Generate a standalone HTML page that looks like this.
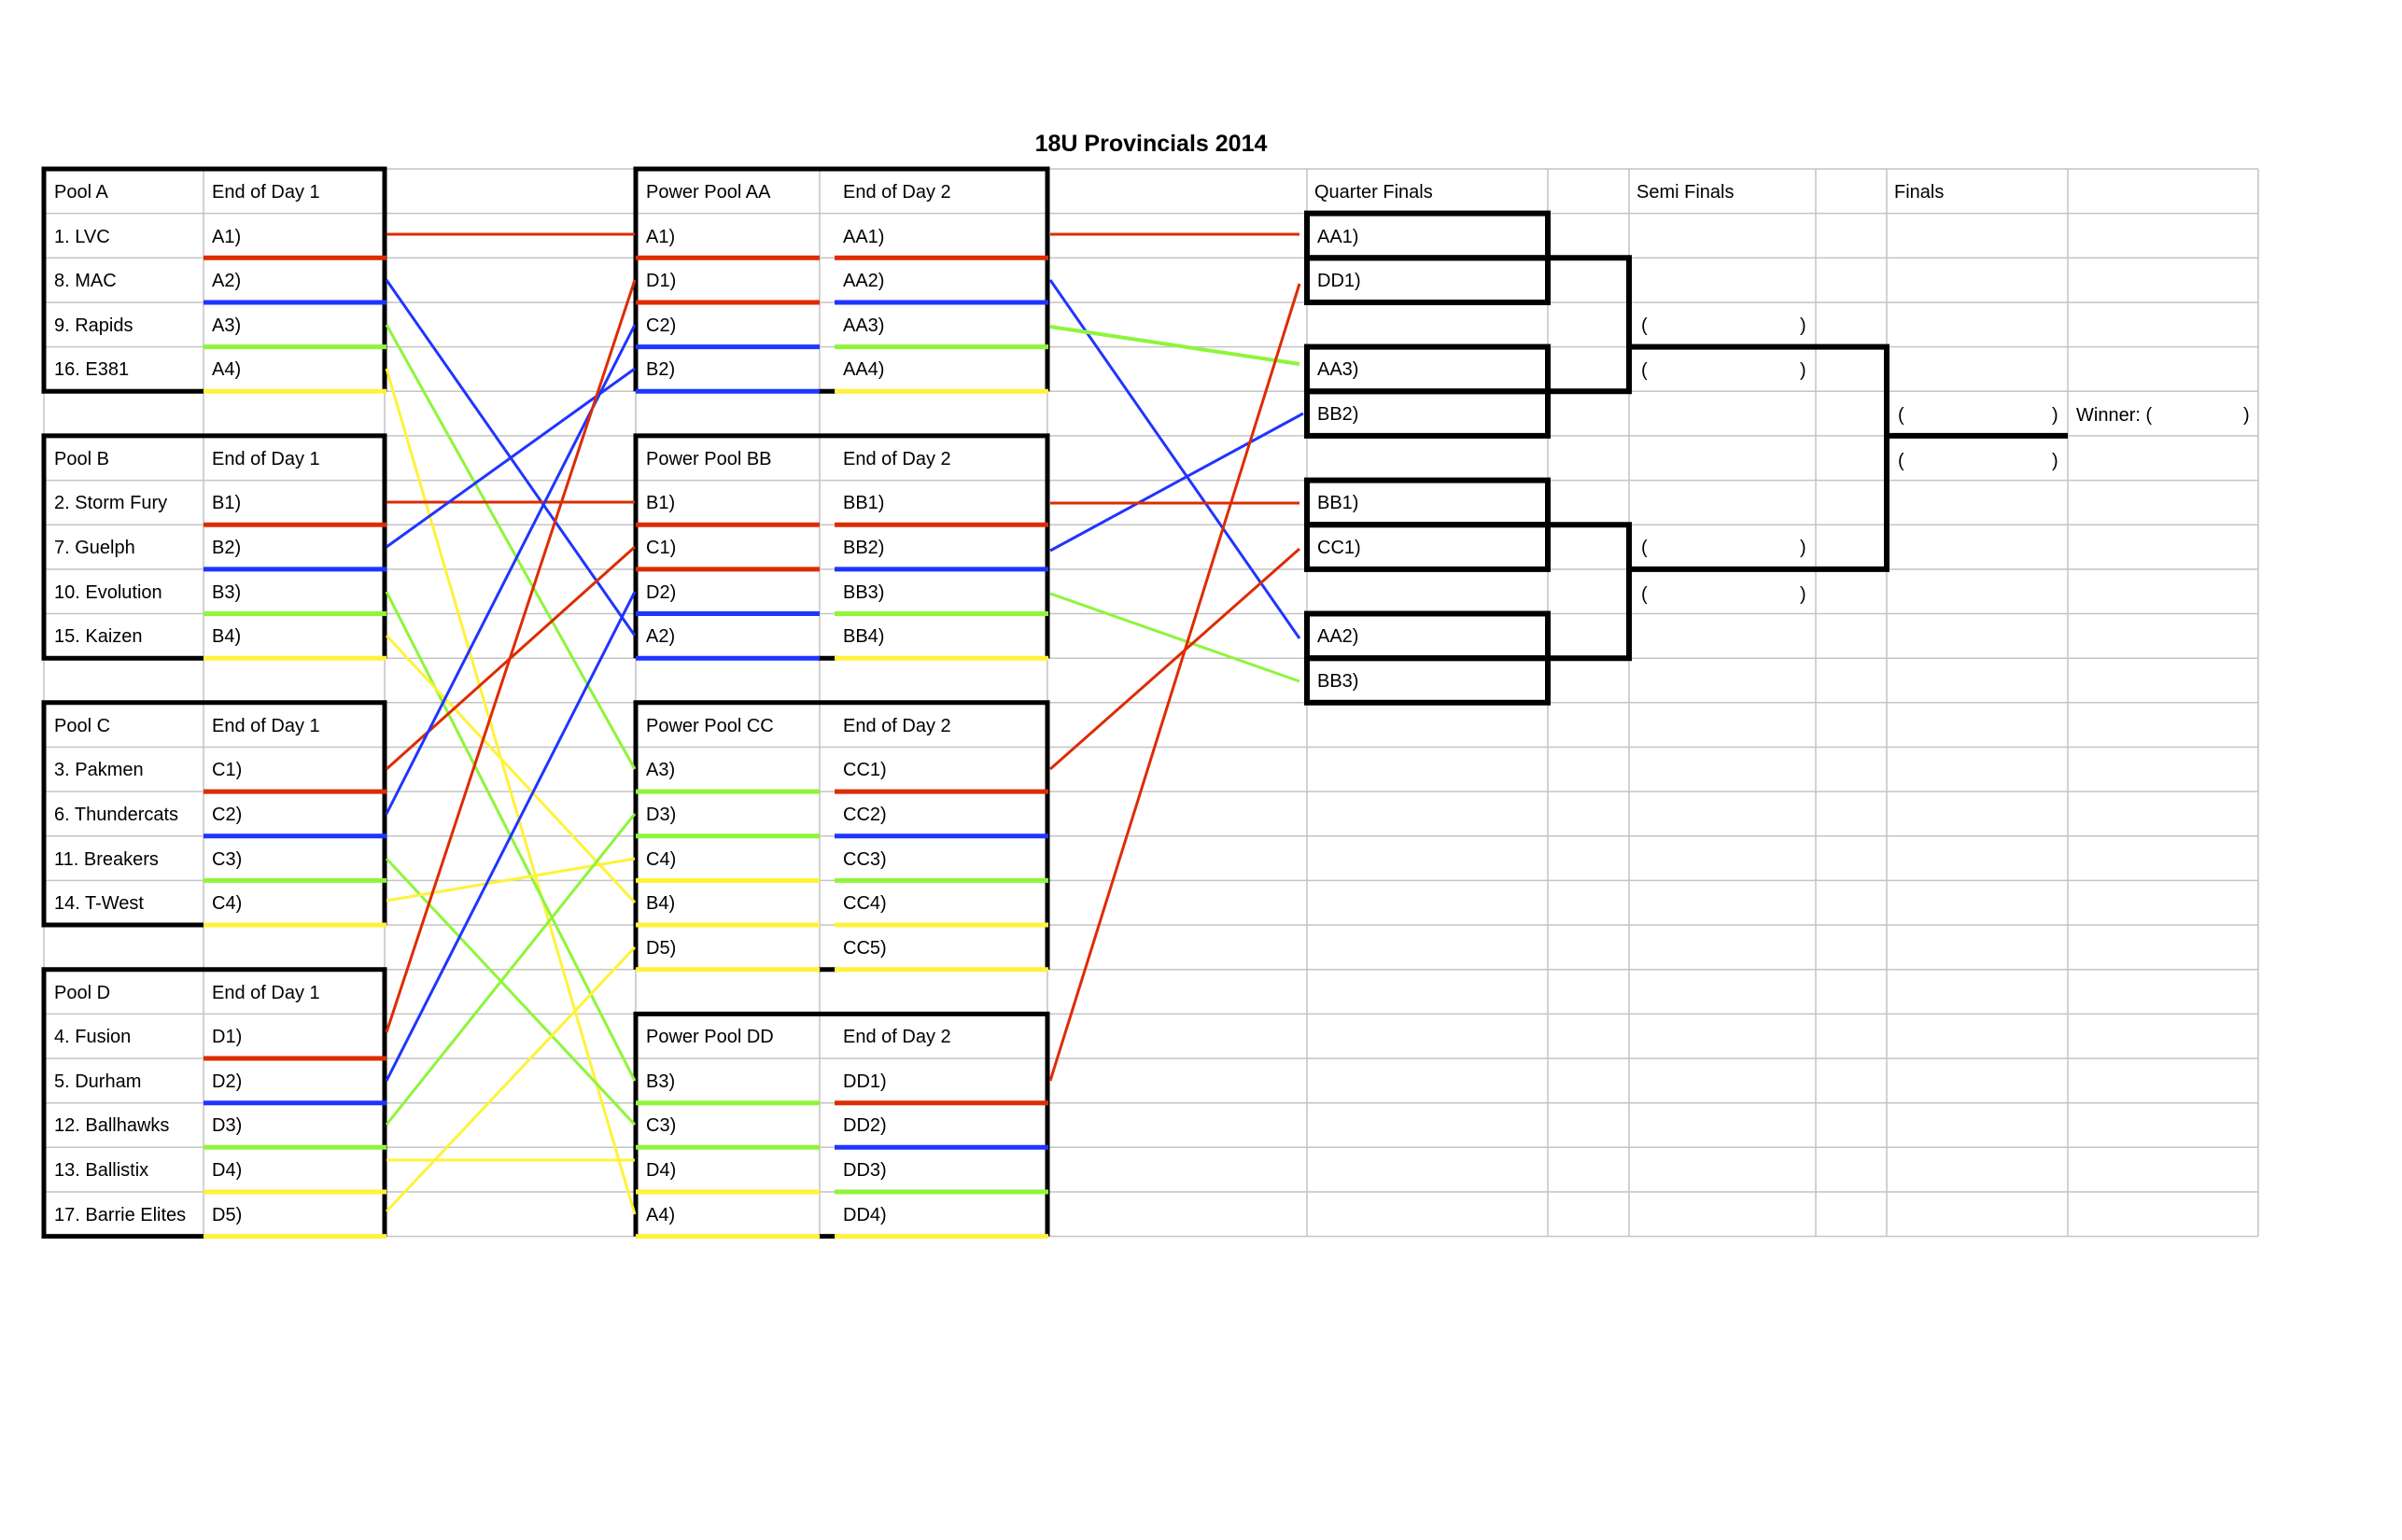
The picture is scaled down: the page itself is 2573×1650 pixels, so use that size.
<!DOCTYPE html>
<html><head><meta charset="utf-8"><style>
html,body{margin:0;padding:0;background:#fff;}
svg{display:block;}
text{font-family:"Liberation Sans",Arial,sans-serif;font-size:20px;fill:#000;}
</style></head><body>
<svg width="2573" height="1650" viewBox="0 0 2573 1650" xmlns="http://www.w3.org/2000/svg">
<rect width="2573" height="1650" fill="#fff"/>
<!-- grid -->
<g stroke="#c4c4c4" stroke-width="1.5">
<line x1="47" y1="181" x2="2419" y2="181"/><line x1="47" y1="228.6" x2="2419" y2="228.6"/><line x1="47" y1="276.3" x2="2419" y2="276.3"/><line x1="47" y1="324" x2="2419" y2="324"/><line x1="47" y1="371.6" x2="2419" y2="371.6"/><line x1="47" y1="419.3" x2="2419" y2="419.3"/><line x1="47" y1="466.9" x2="2419" y2="466.9"/><line x1="47" y1="514.6" x2="2419" y2="514.6"/><line x1="47" y1="562.2" x2="2419" y2="562.2"/><line x1="47" y1="609.9" x2="2419" y2="609.9"/><line x1="47" y1="657.5" x2="2419" y2="657.5"/><line x1="47" y1="705.2" x2="2419" y2="705.2"/><line x1="47" y1="752.8" x2="2419" y2="752.8"/><line x1="47" y1="800.5" x2="2419" y2="800.5"/><line x1="47" y1="848.1" x2="2419" y2="848.1"/><line x1="47" y1="895.8" x2="2419" y2="895.8"/><line x1="47" y1="943.4" x2="2419" y2="943.4"/><line x1="47" y1="991" x2="2419" y2="991"/><line x1="47" y1="1038.7" x2="2419" y2="1038.7"/><line x1="47" y1="1086.4" x2="2419" y2="1086.4"/><line x1="47" y1="1134" x2="2419" y2="1134"/><line x1="47" y1="1181.7" x2="2419" y2="1181.7"/><line x1="47" y1="1229.3" x2="2419" y2="1229.3"/><line x1="47" y1="1277" x2="2419" y2="1277"/><line x1="47" y1="1324.6" x2="2419" y2="1324.6"/>
<line x1="47" y1="181" x2="47" y2="1324.6"/><line x1="218" y1="181" x2="218" y2="1324.6"/><line x1="412" y1="181" x2="412" y2="1324.6"/><line x1="681" y1="181" x2="681" y2="1324.6"/><line x1="878" y1="181" x2="878" y2="1324.6"/><line x1="1122" y1="181" x2="1122" y2="1324.6"/><line x1="1400" y1="181" x2="1400" y2="1324.6"/><line x1="1658" y1="181" x2="1658" y2="1324.6"/><line x1="1745" y1="181" x2="1745" y2="1324.6"/><line x1="1945" y1="181" x2="1945" y2="1324.6"/><line x1="2021" y1="181" x2="2021" y2="1324.6"/><line x1="2215" y1="181" x2="2215" y2="1324.6"/><line x1="2419" y1="181" x2="2419" y2="1324.6"/>
</g>
<text x="1233" y="162" text-anchor="middle" style="font-weight:bold;font-size:25px">18U Provincials 2014</text>

<!-- pool boxes -->
<g fill="none" stroke="#000" stroke-width="5">
<path d="M218 419.3H47V181H412V419.3"/>
<path d="M218 705.2H47V466.9H412V705.2"/>
<path d="M218 991H47V752.8H412V991"/>
<path d="M218 1324.6H47V1038.7H412V1324.6"/>
<path d="M681 419.3V181H1122V419.3M876 419.3H896"/>
<path d="M681 705.2V466.9H1122V705.2M876 705.2H896"/>
<path d="M681 1038.7V752.8H1122V1038.7M876 1038.7H896"/>
<path d="M681 1324.6V1086.4H1122V1324.6M876 1324.6H896"/>
</g>
<g stroke-width="5">
<!-- pool underlines -->
<line x1="218" x2="414" y1="276.3" y2="276.3" stroke="#dd2c00"/><line x1="218" x2="414" y1="324" y2="324" stroke="#1f35ff"/><line x1="218" x2="414" y1="371.6" y2="371.6" stroke="#8ef53a"/><line x1="218" x2="414" y1="419.3" y2="419.3" stroke="#fff23a"/>
<line x1="218" x2="414" y1="562.2" y2="562.2" stroke="#dd2c00"/><line x1="218" x2="414" y1="609.9" y2="609.9" stroke="#1f35ff"/><line x1="218" x2="414" y1="657.5" y2="657.5" stroke="#8ef53a"/><line x1="218" x2="414" y1="705.2" y2="705.2" stroke="#fff23a"/>
<line x1="218" x2="414" y1="848.1" y2="848.1" stroke="#dd2c00"/><line x1="218" x2="414" y1="895.8" y2="895.8" stroke="#1f35ff"/><line x1="218" x2="414" y1="943.4" y2="943.4" stroke="#8ef53a"/><line x1="218" x2="414" y1="991" y2="991" stroke="#fff23a"/>
<line x1="218" x2="414" y1="1134" y2="1134" stroke="#dd2c00"/><line x1="218" x2="414" y1="1181.7" y2="1181.7" stroke="#1f35ff"/><line x1="218" x2="414" y1="1229.3" y2="1229.3" stroke="#8ef53a"/><line x1="218" x2="414" y1="1277" y2="1277" stroke="#fff23a"/><line x1="218" x2="414" y1="1324.6" y2="1324.6" stroke="#fff23a"/>
<!-- power AA -->
<line x1="681" x2="878" y1="276.3" y2="276.3" stroke="#dd2c00"/><line x1="894" x2="1123" y1="276.3" y2="276.3" stroke="#dd2c00"/>
<line x1="681" x2="878" y1="324" y2="324" stroke="#dd2c00"/><line x1="894" x2="1123" y1="324" y2="324" stroke="#1f35ff"/>
<line x1="681" x2="878" y1="371.6" y2="371.6" stroke="#1f35ff"/><line x1="894" x2="1123" y1="371.6" y2="371.6" stroke="#8ef53a"/>
<line x1="681" x2="878" y1="419.3" y2="419.3" stroke="#1f35ff"/><line x1="894" x2="1123" y1="419.3" y2="419.3" stroke="#fff23a"/>
<!-- BB -->
<line x1="681" x2="878" y1="562.2" y2="562.2" stroke="#dd2c00"/><line x1="894" x2="1123" y1="562.2" y2="562.2" stroke="#dd2c00"/>
<line x1="681" x2="878" y1="609.9" y2="609.9" stroke="#dd2c00"/><line x1="894" x2="1123" y1="609.9" y2="609.9" stroke="#1f35ff"/>
<line x1="681" x2="878" y1="657.5" y2="657.5" stroke="#1f35ff"/><line x1="894" x2="1123" y1="657.5" y2="657.5" stroke="#8ef53a"/>
<line x1="681" x2="878" y1="705.2" y2="705.2" stroke="#1f35ff"/><line x1="894" x2="1123" y1="705.2" y2="705.2" stroke="#fff23a"/>
<!-- CC -->
<line x1="681" x2="878" y1="848.1" y2="848.1" stroke="#8ef53a"/><line x1="894" x2="1123" y1="848.1" y2="848.1" stroke="#dd2c00"/>
<line x1="681" x2="878" y1="895.8" y2="895.8" stroke="#8ef53a"/><line x1="894" x2="1123" y1="895.8" y2="895.8" stroke="#1f35ff"/>
<line x1="681" x2="878" y1="943.4" y2="943.4" stroke="#fff23a"/><line x1="894" x2="1123" y1="943.4" y2="943.4" stroke="#8ef53a"/>
<line x1="681" x2="878" y1="991" y2="991" stroke="#fff23a"/><line x1="894" x2="1123" y1="991" y2="991" stroke="#fff23a"/>
<line x1="681" x2="878" y1="1038.7" y2="1038.7" stroke="#fff23a"/><line x1="894" x2="1123" y1="1038.7" y2="1038.7" stroke="#fff23a"/>
<!-- DD -->
<line x1="681" x2="878" y1="1181.7" y2="1181.7" stroke="#8ef53a"/><line x1="894" x2="1123" y1="1181.7" y2="1181.7" stroke="#dd2c00"/>
<line x1="681" x2="878" y1="1229.3" y2="1229.3" stroke="#8ef53a"/><line x1="894" x2="1123" y1="1229.3" y2="1229.3" stroke="#1f35ff"/>
<line x1="681" x2="878" y1="1277" y2="1277" stroke="#fff23a"/><line x1="894" x2="1123" y1="1277" y2="1277" stroke="#8ef53a"/>
<line x1="681" x2="878" y1="1324.6" y2="1324.6" stroke="#fff23a"/><line x1="894" x2="1123" y1="1324.6" y2="1324.6" stroke="#fff23a"/>
</g>

<!-- connectors left -->
<g stroke-width="3">
<line x1="414" y1="251" x2="680" y2="251" stroke="#dd2c00"/>
<line x1="414" y1="300" x2="680" y2="681" stroke="#1f35ff"/>
<line x1="414" y1="348" x2="680" y2="824" stroke="#8ef53a"/>
<line x1="414" y1="395" x2="680" y2="1301" stroke="#fff23a"/>
<line x1="414" y1="538" x2="680" y2="538" stroke="#dd2c00"/>
<line x1="414" y1="586" x2="680" y2="395" stroke="#1f35ff"/>
<line x1="414" y1="634" x2="680" y2="1158" stroke="#8ef53a"/>
<line x1="414" y1="681" x2="680" y2="967" stroke="#fff23a"/>
<line x1="414" y1="824" x2="680" y2="586" stroke="#dd2c00"/>
<line x1="414" y1="872" x2="680" y2="348" stroke="#1f35ff"/>
<line x1="414" y1="920" x2="680" y2="1205" stroke="#8ef53a"/>
<line x1="414" y1="965" x2="680" y2="920" stroke="#fff23a"/>
<line x1="414" y1="1106" x2="680" y2="300" stroke="#dd2c00"/>
<line x1="414" y1="1158" x2="680" y2="634" stroke="#1f35ff"/>
<line x1="414" y1="1205" x2="680" y2="872" stroke="#8ef53a"/>
<line x1="414" y1="1243" x2="680" y2="1243" stroke="#fff23a"/>
<line x1="414" y1="1298" x2="680" y2="1015" stroke="#fff23a"/>
<!-- right -->
<line x1="1125" y1="251" x2="1392" y2="251" stroke="#dd2c00"/>
<line x1="1125" y1="300" x2="1392" y2="684" stroke="#1f35ff"/>
<line x1="1125" y1="350" x2="1392" y2="390" stroke="#8ef53a" stroke-width="4"/>
<line x1="1125" y1="590" x2="1396" y2="443" stroke="#1f35ff"/>
<line x1="1125" y1="539" x2="1392" y2="539" stroke="#dd2c00"/>
<line x1="1125" y1="636" x2="1392" y2="730" stroke="#8ef53a"/>
<line x1="1125" y1="824" x2="1392" y2="588" stroke="#dd2c00"/>
<line x1="1125" y1="1158" x2="1392" y2="304" stroke="#dd2c00"/>
</g>

<!-- QF boxes and bracket -->
<g fill="none" stroke="#000" stroke-width="6">
<rect x="1400" y="228.6" width="258" height="47.7"/><rect x="1400" y="276.3" width="258" height="47.7"/>
<rect x="1400" y="371.6" width="258" height="47.7"/><rect x="1400" y="419.3" width="258" height="47.6"/>
<rect x="1400" y="514.6" width="258" height="47.6"/><rect x="1400" y="562.2" width="258" height="47.7"/>
<rect x="1400" y="657.5" width="258" height="47.7"/><rect x="1400" y="705.2" width="258" height="47.6"/>
<path d="M1658 276.3H1745V419.3H1658"/>
<path d="M1658 562.2H1745V705.2H1658"/>
<path d="M1745 371.6H2021V609.9H1745"/>
<path d="M2021 466.9H2215"/>
</g>

<!-- texts -->
<g>
<text x="58" y="212">Pool A</text><text x="227" y="212">End of Day 1</text>
<text x="58" y="260">1. LVC</text><text x="227" y="260">A1)</text>
<text x="58" y="307">8. MAC</text><text x="227" y="307">A2)</text>
<text x="58" y="355">9. Rapids</text><text x="227" y="355">A3)</text>
<text x="58" y="402">16. E381</text><text x="227" y="402">A4)</text>
<text x="58" y="498">Pool B</text><text x="227" y="498">End of Day 1</text>
<text x="58" y="545">2. Storm Fury</text><text x="227" y="545">B1)</text>
<text x="58" y="593">7. Guelph</text><text x="227" y="593">B2)</text>
<text x="58" y="641">10. Evolution</text><text x="227" y="641">B3)</text>
<text x="58" y="688">15. Kaizen</text><text x="227" y="688">B4)</text>
<text x="58" y="784">Pool C</text><text x="227" y="784">End of Day 1</text>
<text x="58" y="831">3. Pakmen</text><text x="227" y="831">C1)</text>
<text x="58" y="879">6. Thundercats</text><text x="227" y="879">C2)</text>
<text x="58" y="927">11. Breakers</text><text x="227" y="927">C3)</text>
<text x="58" y="974">14. T-West</text><text x="227" y="974">C4)</text>
<text x="58" y="1070">Pool D</text><text x="227" y="1070">End of Day 1</text>
<text x="58" y="1117">4. Fusion</text><text x="227" y="1117">D1)</text>
<text x="58" y="1165">5. Durham</text><text x="227" y="1165">D2)</text>
<text x="58" y="1212">12. Ballhawks</text><text x="227" y="1212">D3)</text>
<text x="58" y="1260">13. Ballistix</text><text x="227" y="1260">D4)</text>
<text x="58" y="1308">17. Barrie Elites</text><text x="227" y="1308">D5)</text>

<text x="692" y="212">Power Pool AA</text><text x="903" y="212">End of Day 2</text>
<text x="692" y="260">A1)</text><text x="903" y="260">AA1)</text>
<text x="692" y="307">D1)</text><text x="903" y="307">AA2)</text>
<text x="692" y="355">C2)</text><text x="903" y="355">AA3)</text>
<text x="692" y="402">B2)</text><text x="903" y="402">AA4)</text>
<text x="692" y="498">Power Pool BB</text><text x="903" y="498">End of Day 2</text>
<text x="692" y="545">B1)</text><text x="903" y="545">BB1)</text>
<text x="692" y="593">C1)</text><text x="903" y="593">BB2)</text>
<text x="692" y="641">D2)</text><text x="903" y="641">BB3)</text>
<text x="692" y="688">A2)</text><text x="903" y="688">BB4)</text>
<text x="692" y="784">Power Pool CC</text><text x="903" y="784">End of Day 2</text>
<text x="692" y="831">A3)</text><text x="903" y="831">CC1)</text>
<text x="692" y="879">D3)</text><text x="903" y="879">CC2)</text>
<text x="692" y="927">C4)</text><text x="903" y="927">CC3)</text>
<text x="692" y="974">B4)</text><text x="903" y="974">CC4)</text>
<text x="692" y="1022">D5)</text><text x="903" y="1022">CC5)</text>
<text x="692" y="1117">Power Pool DD</text><text x="903" y="1117">End of Day 2</text>
<text x="692" y="1165">B3)</text><text x="903" y="1165">DD1)</text>
<text x="692" y="1212">C3)</text><text x="903" y="1212">DD2)</text>
<text x="692" y="1260">D4)</text><text x="903" y="1260">DD3)</text>
<text x="692" y="1308">A4)</text><text x="903" y="1308">DD4)</text>

<text x="1408" y="212">Quarter Finals</text>
<text x="1753" y="212">Semi Finals</text>
<text x="2029" y="212">Finals</text>
<text x="1411" y="260">AA1)</text>
<text x="1411" y="307">DD1)</text>
<text x="1411" y="402">AA3)</text>
<text x="1411" y="450">BB2)</text>
<text x="1411" y="545">BB1)</text>
<text x="1411" y="593">CC1)</text>
<text x="1411" y="688">AA2)</text>
<text x="1411" y="736">BB3)</text>
<text x="1758" y="355">(</text><text x="1928" y="355">)</text>
<text x="1758" y="403">(</text><text x="1928" y="403">)</text>
<text x="1758" y="593">(</text><text x="1928" y="593">)</text>
<text x="1758" y="643">(</text><text x="1928" y="643">)</text>
<text x="2033" y="451">(</text><text x="2198" y="451">)</text>
<text x="2033" y="500">(</text><text x="2198" y="500">)</text>
<text x="2224" y="451">Winner: (</text><text x="2403" y="451">)</text>
</g>
</svg>
</body></html>
